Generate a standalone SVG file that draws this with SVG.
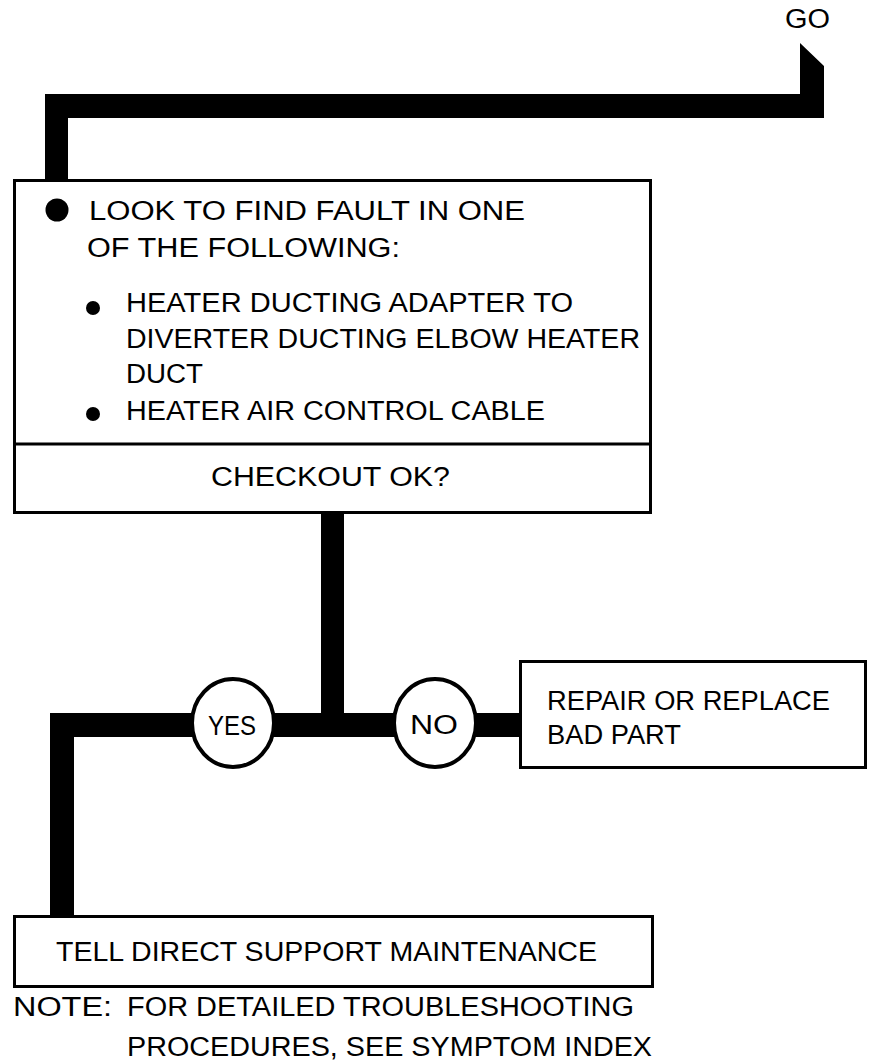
<svg xmlns="http://www.w3.org/2000/svg" width="872" height="1064" viewBox="0 0 872 1064">
<style>
.t{font-family:"Liberation Sans",Arial,sans-serif;font-size:27px;fill:#000}
.box{fill:#fff;stroke:#000;stroke-width:3}
.bar{fill:#000;stroke:none}
.oval{fill:#fff;stroke:#000;stroke-width:4}
</style>
<rect width="872" height="1064" fill="#fff"/>
<g id="connectors">
<polygon class="bar" points="45,94 800,94 800,43 824,66 824,118 68,118 68,181 45,181"/>
<rect class="bar" x="321" y="512" width="23" height="214"/>
<rect class="bar" x="50" y="713" width="470" height="24"/>
<rect class="bar" x="50" y="713" width="24" height="203"/>
</g>
<g id="start">
<text class="t" x="785" y="28" textLength="45" lengthAdjust="spacingAndGlyphs">GO</text>
</g>
<g id="fault-box">
<rect class="box" x="14.5" y="180.5" width="636" height="332"/>
<line x1="14.5" y1="444" x2="650.5" y2="444" stroke="#000" stroke-width="3"/>
<circle cx="57" cy="210" r="11.5" fill="#000"/>
<text class="t" x="89" y="220" textLength="436" lengthAdjust="spacingAndGlyphs">LOOK TO FIND FAULT IN ONE</text>
<text class="t" x="87" y="257" textLength="313" lengthAdjust="spacingAndGlyphs">OF THE FOLLOWING:</text>
<circle cx="93" cy="308" r="7" fill="#000"/>
<text class="t" x="126" y="312" textLength="447" lengthAdjust="spacingAndGlyphs">HEATER DUCTING ADAPTER TO</text>
<text class="t" x="126" y="348" textLength="514" lengthAdjust="spacingAndGlyphs">DIVERTER DUCTING ELBOW HEATER</text>
<text class="t" x="126" y="383" textLength="77" lengthAdjust="spacingAndGlyphs">DUCT</text>
<circle cx="93" cy="414" r="7" fill="#000"/>
<text class="t" x="126" y="420" textLength="419" lengthAdjust="spacingAndGlyphs">HEATER AIR CONTROL CABLE</text>
<text class="t" x="211" y="486" textLength="239" lengthAdjust="spacingAndGlyphs">CHECKOUT OK?</text>
</g>
<g id="yes">
<ellipse class="oval" cx="233" cy="723" rx="41" ry="44"/>
<text class="t" x="208" y="735" textLength="48" lengthAdjust="spacingAndGlyphs">YES</text>
</g>
<g id="no">
<ellipse class="oval" cx="435" cy="723" rx="41" ry="44"/>
<text class="t" x="410" y="734" textLength="48" lengthAdjust="spacingAndGlyphs">NO</text>
</g>
<g id="repair-box">
<rect class="box" x="520.5" y="661.5" width="345" height="106"/>
<text class="t" x="547" y="710" textLength="283" lengthAdjust="spacingAndGlyphs">REPAIR OR REPLACE</text>
<text class="t" x="547" y="744" textLength="134" lengthAdjust="spacingAndGlyphs">BAD PART</text>
</g>
<g id="tell-box">
<rect class="box" x="14.5" y="916.5" width="638" height="70"/>
<text class="t" x="56" y="961" textLength="541" lengthAdjust="spacingAndGlyphs">TELL DIRECT SUPPORT MAINTENANCE</text>
</g>
<g id="note">
<text class="t" x="13" y="1016" textLength="99" lengthAdjust="spacingAndGlyphs">NOTE:</text>
<text class="t" x="127" y="1016" textLength="507" lengthAdjust="spacingAndGlyphs">FOR DETAILED TROUBLESHOOTING</text>
<text class="t" x="127" y="1056" textLength="525" lengthAdjust="spacingAndGlyphs">PROCEDURES, SEE SYMPTOM INDEX</text>
</g>
</svg>
